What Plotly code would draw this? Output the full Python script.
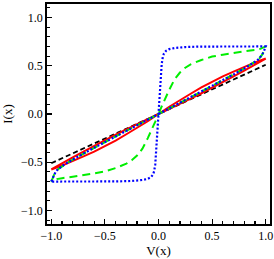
import plotly.graph_objects as go

# Black dashed line
black_v = [-1.0, -0.5, 0.0, 0.5, 1.0]
black_i = [-0.51, -0.255, 0.0, 0.255, 0.51]

# Red solid thin loop
red_v = [-1.0, -0.9, -0.8, -0.7, -0.6, -0.5, -0.4, -0.3, -0.2, -0.1, 0.0,
         0.1, 0.2, 0.3, 0.4, 0.5, 0.6, 0.7, 0.8, 0.9, 1.0,
         0.9, 0.8, 0.7, 0.6, 0.5, 0.4, 0.3, 0.2, 0.1, 0.0,
         -0.1, -0.2, -0.3, -0.4, -0.5, -0.6, -0.7, -0.8, -0.9, -1.0]
red_i = [-0.575, -0.51, -0.45, -0.39, -0.33, -0.27, -0.215, -0.16, -0.105, -0.052, 0.0,
         0.075, 0.145, 0.21, 0.275, 0.335, 0.39, 0.44, 0.49, 0.535, 0.575,
         0.51, 0.45, 0.39, 0.33, 0.27, 0.215, 0.16, 0.105, 0.052, 0.0,
         -0.075, -0.145, -0.21, -0.275, -0.335, -0.39, -0.44, -0.49, -0.535, -0.575]

# Green dashed loop
green_v = [-1.0, -0.97, -0.94, -0.9, -0.85, -0.8, -0.7, -0.6, -0.5, -0.4, -0.3, -0.2, -0.1, 0.0,
           0.03, 0.06, 0.1, 0.15, 0.2, 0.25, 0.3, 0.4, 0.5, 0.6, 0.7, 0.8, 0.9, 0.95, 1.0,
           0.97, 0.94, 0.9, 0.85, 0.8, 0.7, 0.6, 0.5, 0.4, 0.3, 0.2, 0.1, 0.0,
           -0.03, -0.06, -0.1, -0.15, -0.2, -0.25, -0.3, -0.4, -0.5, -0.6, -0.7, -0.8, -0.9, -0.95, -1.0]
green_i = [-0.70, -0.62, -0.575, -0.54, -0.505, -0.472, -0.41, -0.35, -0.29, -0.232, -0.174, -0.116, -0.058, 0.0,
           0.08, 0.16, 0.25, 0.36, 0.43, 0.48, 0.515, 0.56, 0.595, 0.615, 0.635, 0.65, 0.665, 0.675, 0.70,
           0.62, 0.575, 0.54, 0.505, 0.472, 0.41, 0.35, 0.29, 0.232, 0.174, 0.116, 0.058, 0.0,
           -0.08, -0.16, -0.25, -0.36, -0.43, -0.48, -0.515, -0.56, -0.595, -0.615, -0.635, -0.65, -0.665, -0.675, -0.70]

# Blue dotted loop
blue_v = [-1.0, -0.98, -0.96, -0.94, -0.92, -0.9, -0.85, -0.8, -0.7, -0.6, -0.5, -0.4, -0.3, -0.2, -0.1, 0.0,
          0.01, 0.02, 0.03, 0.04, 0.05, 0.07, 0.1, 0.15, 0.25, 0.4, 0.7, 1.0,
          0.98, 0.96, 0.94, 0.92, 0.9, 0.85, 0.8, 0.7, 0.6, 0.5, 0.4, 0.3, 0.2, 0.1, 0.0,
          -0.01, -0.02, -0.03, -0.04, -0.05, -0.07, -0.1, -0.15, -0.25, -0.4, -0.7, -1.0]
blue_i = [-0.70, -0.64, -0.60, -0.575, -0.555, -0.54, -0.505, -0.472, -0.41, -0.35, -0.29, -0.232, -0.174, -0.116, -0.058, 0.0,
          0.18, 0.36, 0.52, 0.59, 0.625, 0.655, 0.672, 0.684, 0.694, 0.699, 0.70, 0.70,
          0.64, 0.60, 0.575, 0.555, 0.54, 0.505, 0.472, 0.41, 0.35, 0.29, 0.232, 0.174, 0.116, 0.058, 0.0,
          -0.18, -0.36, -0.52, -0.59, -0.625, -0.655, -0.672, -0.684, -0.694, -0.699, -0.70, -0.70]

tick_vals = [-1.0, -0.5, 0.0, 0.5, 1.0]
tick_text = ["\u22121.0", "\u22120.5", "0.0", "0.5", "1.0"]

fig = go.Figure()
fig.add_trace(go.Scatter(x=black_v, y=black_i, mode="lines",
                         line=dict(color="black", width=1.8, dash="5px,3px")))
fig.add_trace(go.Scatter(x=red_v, y=red_i, mode="lines",
                         line=dict(color="#ff0000", width=2)))
fig.add_trace(go.Scatter(x=green_v, y=green_i, mode="lines",
                         line=dict(color="#00ee00", width=2, dash="8px,5px")))
fig.add_trace(go.Scatter(x=blue_v, y=blue_i, mode="lines",
                         line=dict(color="#0000ff", width=2.2, dash="2px,2px")))

serif = "Liberation Serif"
font = dict(family=serif, size=12, color="black")
axis_common = dict(showline=True, linewidth=1.8, linecolor="black", mirror=True,
                   ticks="inside", ticklen=5, tickwidth=1.2, tickcolor="black",
                   showgrid=False, zeroline=False, tickfont=font,
                   tickvals=tick_vals, ticktext=tick_text,
                   minor=dict(ticks="inside", ticklen=3, tickcolor="black", dtick=0.1, tick0=0, showgrid=False))

fig.update_layout(
    width=274, height=259,
    margin=dict(l=47, r=3, t=2, b=35),
    paper_bgcolor="white", plot_bgcolor="white",
    showlegend=False,
    font=dict(family=serif, color="black"),
    xaxis=dict(range=[-1.04, 1.04], title=dict(text="V(x)", font=dict(family=serif, size=13, color="black"), standoff=3), **axis_common),
    yaxis=dict(range=[-1.14, 1.14], title=dict(text="I(x)", font=dict(family=serif, size=13, color="black"), standoff=8), **axis_common),
)

fig.write_html("out.html", config={"displayModeBar": False, "staticPlot": True},
               post_script="document.body.style.margin='0';document.body.style.overflow='hidden';")
